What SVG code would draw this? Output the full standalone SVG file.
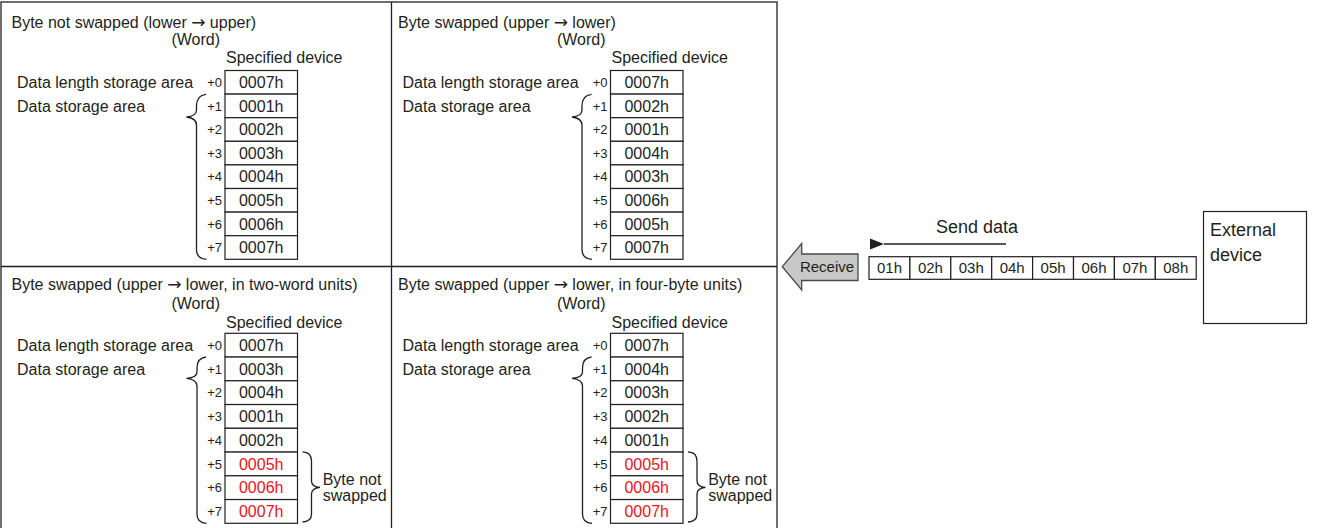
<svg xmlns="http://www.w3.org/2000/svg" width="1318" height="528" viewBox="0 0 1318 528">
<style>
text{font-family:"Liberation Sans",Arial,sans-serif;font-size:16px;fill:#231f20}
.ar{font-family:"DejaVu Sans",sans-serif;font-size:17px}
.o{font-size:13px;text-anchor:end}
.c{text-anchor:middle}
.e{text-anchor:end}
.r{fill:#e8141c}
.cell{fill:#fff;stroke:#231f20;stroke-width:1.2}
.br{fill:none;stroke:#231f20;stroke-width:1.3}
.fr{fill:none;stroke:#231f20;stroke-width:1.3}
.b15{font-size:15px}
.b18{font-size:18px}
</style>
<defs>
<marker id="ah" markerWidth="16" markerHeight="12" refX="1" refY="6" orient="auto" markerUnits="userSpaceOnUse">
<path d="M15,0.5 L1,6 L15,11.5 Z" fill="#231f20"/>
</marker>
</defs>
<rect id="frame" class="fr" x="1" y="2" width="776" height="540"/>
<line class="fr" x1="391.5" y1="2" x2="391.5" y2="540"/>
<line class="fr" x1="1" y1="266.5" x2="777" y2="266.5"/>

<g id="panel-1">
<text x="11.5" y="27.5">Byte not swapped (lower <tspan class="ar">→</tspan> upper)</text>
<text class="e" x="220" y="44.5">(Word)</text>
<text x="226" y="63">Specified device</text>
<text x="17" y="88">Data length storage area</text>
<text x="17" y="111.6">Data storage area</text>
<path class="br" d="M206,94.3 C199,95 196.5,99 196.5,106 L196.5,110 C196.5,114.5 193,116.5 186.5,117 C193,117.8 196.5,120 196.5,125 L196.5,250 C196.5,256 199.5,258.8 206.5,259.3"/>
<rect class="cell" x="225" y="70.5" width="72.5" height="23.6"/>
<rect class="cell" x="225" y="94.1" width="72.5" height="23.6"/>
<rect class="cell" x="225" y="117.7" width="72.5" height="23.6"/>
<rect class="cell" x="225" y="141.3" width="72.5" height="23.6"/>
<rect class="cell" x="225" y="164.9" width="72.5" height="23.6"/>
<rect class="cell" x="225" y="188.5" width="72.5" height="23.6"/>
<rect class="cell" x="225" y="212.1" width="72.5" height="23.6"/>
<rect class="cell" x="225" y="235.7" width="72.5" height="23.6"/>
<text class="o" x="222" y="87">+0</text>
<text class="o" x="222" y="110.6">+1</text>
<text class="o" x="222" y="134.2">+2</text>
<text class="o" x="222" y="157.8">+3</text>
<text class="o" x="222" y="181.4">+4</text>
<text class="o" x="222" y="205">+5</text>
<text class="o" x="222" y="228.6">+6</text>
<text class="o" x="222" y="252.2">+7</text>
<text class="c" x="261.2" y="88">0007h</text>
<text class="c" x="261.2" y="111.6">0001h</text>
<text class="c" x="261.2" y="135.2">0002h</text>
<text class="c" x="261.2" y="158.8">0003h</text>
<text class="c" x="261.2" y="182.4">0004h</text>
<text class="c" x="261.2" y="206">0005h</text>
<text class="c" x="261.2" y="229.6">0006h</text>
<text class="c" x="261.2" y="253.2">0007h</text>
</g>

<g id="panel-2" transform="translate(385.5,0)">
<text x="12.5" y="27.5">Byte swapped (upper <tspan class="ar">→</tspan> lower)</text>
<text class="e" x="220" y="44.5">(Word)</text>
<text x="226" y="63">Specified device</text>
<text x="17" y="88">Data length storage area</text>
<text x="17" y="111.6">Data storage area</text>
<path class="br" d="M206,94.3 C199,95 196.5,99 196.5,106 L196.5,110 C196.5,114.5 193,116.5 186.5,117 C193,117.8 196.5,120 196.5,125 L196.5,250 C196.5,256 199.5,258.8 206.5,259.3"/>
<rect class="cell" x="225" y="70.5" width="72.5" height="23.6"/>
<rect class="cell" x="225" y="94.1" width="72.5" height="23.6"/>
<rect class="cell" x="225" y="117.7" width="72.5" height="23.6"/>
<rect class="cell" x="225" y="141.3" width="72.5" height="23.6"/>
<rect class="cell" x="225" y="164.9" width="72.5" height="23.6"/>
<rect class="cell" x="225" y="188.5" width="72.5" height="23.6"/>
<rect class="cell" x="225" y="212.1" width="72.5" height="23.6"/>
<rect class="cell" x="225" y="235.7" width="72.5" height="23.6"/>
<text class="o" x="222" y="87">+0</text>
<text class="o" x="222" y="110.6">+1</text>
<text class="o" x="222" y="134.2">+2</text>
<text class="o" x="222" y="157.8">+3</text>
<text class="o" x="222" y="181.4">+4</text>
<text class="o" x="222" y="205">+5</text>
<text class="o" x="222" y="228.6">+6</text>
<text class="o" x="222" y="252.2">+7</text>
<text class="c" x="261.2" y="88">0007h</text>
<text class="c" x="261.2" y="111.6">0002h</text>
<text class="c" x="261.2" y="135.2">0001h</text>
<text class="c" x="261.2" y="158.8">0004h</text>
<text class="c" x="261.2" y="182.4">0003h</text>
<text class="c" x="261.2" y="206">0006h</text>
<text class="c" x="261.2" y="229.6">0005h</text>
<text class="c" x="261.2" y="253.2">0007h</text>
</g>

<g id="panel-3">
<text x="11.5" y="289.8">Byte swapped (upper <tspan class="ar">→</tspan> lower, in two-word units)</text>
<text class="e" x="220" y="308.5">(Word)</text>
<text x="226" y="327.8">Specified device</text>
<text x="17" y="350.9">Data length storage area</text>
<text x="17" y="374.6">Data storage area</text>
<path class="br" d="M206,357 C199,357.8 197,362 197,368 L197,372 C197,376 193.5,377.8 186.5,378.3 C193.5,379 197,381 197,386 L197,514 C197,520 200,523 206.5,523.3"/>
<rect class="cell" x="225" y="333.3" width="72.5" height="23.75"/>
<rect class="cell" x="225" y="357.05" width="72.5" height="23.75"/>
<rect class="cell" x="225" y="380.8" width="72.5" height="23.75"/>
<rect class="cell" x="225" y="404.55" width="72.5" height="23.75"/>
<rect class="cell" x="225" y="428.3" width="72.5" height="23.75"/>
<rect class="cell" x="225" y="452.05" width="72.5" height="23.75"/>
<rect class="cell" x="225" y="475.8" width="72.5" height="23.75"/>
<rect class="cell" x="225" y="499.55" width="72.5" height="23.75"/>
<text class="o" x="222" y="349.9">+0</text>
<text class="o" x="222" y="373.65">+1</text>
<text class="o" x="222" y="397.4">+2</text>
<text class="o" x="222" y="421.15">+3</text>
<text class="o" x="222" y="444.9">+4</text>
<text class="o" x="222" y="468.65">+5</text>
<text class="o" x="222" y="492.4">+6</text>
<text class="o" x="222" y="516.15">+7</text>
<text class="c" x="261.2" y="350.9">0007h</text>
<text class="c" x="261.2" y="374.65">0003h</text>
<text class="c" x="261.2" y="398.4">0004h</text>
<text class="c" x="261.2" y="422.15">0001h</text>
<text class="c" x="261.2" y="445.9">0002h</text>
<text class="c r" x="261.2" y="469.65">0005h</text>
<text class="c r" x="261.2" y="493.4">0006h</text>
<text class="c r" x="261.2" y="517.15">0007h</text>
<path class="br" d="M302.5,451.8 C308.5,452 311.5,455 311.5,461 L311.5,481 C311.5,485 314,487 320,487.4 C314,488 311.5,490 311.5,494 L311.5,514 C311.5,519.5 308.5,521.8 302.5,522"/>
<text x="322.7" y="485">Byte not</text>
<text x="322.7" y="501">swapped</text>
</g>

<g id="panel-4" transform="translate(385.5,0)">
<text x="12.5" y="289.8">Byte swapped (upper <tspan class="ar">→</tspan> lower, in four-byte units)</text>
<text class="e" x="220" y="308.5">(Word)</text>
<text x="226" y="327.8">Specified device</text>
<text x="17" y="350.9">Data length storage area</text>
<text x="17" y="374.6">Data storage area</text>
<path class="br" d="M206,357 C199,357.8 197,362 197,368 L197,372 C197,376 193.5,377.8 186.5,378.3 C193.5,379 197,381 197,386 L197,514 C197,520 200,523 206.5,523.3"/>
<rect class="cell" x="225" y="333.3" width="72.5" height="23.75"/>
<rect class="cell" x="225" y="357.05" width="72.5" height="23.75"/>
<rect class="cell" x="225" y="380.8" width="72.5" height="23.75"/>
<rect class="cell" x="225" y="404.55" width="72.5" height="23.75"/>
<rect class="cell" x="225" y="428.3" width="72.5" height="23.75"/>
<rect class="cell" x="225" y="452.05" width="72.5" height="23.75"/>
<rect class="cell" x="225" y="475.8" width="72.5" height="23.75"/>
<rect class="cell" x="225" y="499.55" width="72.5" height="23.75"/>
<text class="o" x="222" y="349.9">+0</text>
<text class="o" x="222" y="373.65">+1</text>
<text class="o" x="222" y="397.4">+2</text>
<text class="o" x="222" y="421.15">+3</text>
<text class="o" x="222" y="444.9">+4</text>
<text class="o" x="222" y="468.65">+5</text>
<text class="o" x="222" y="492.4">+6</text>
<text class="o" x="222" y="516.15">+7</text>
<text class="c" x="261.2" y="350.9">0007h</text>
<text class="c" x="261.2" y="374.65">0004h</text>
<text class="c" x="261.2" y="398.4">0003h</text>
<text class="c" x="261.2" y="422.15">0002h</text>
<text class="c" x="261.2" y="445.9">0001h</text>
<text class="c r" x="261.2" y="469.65">0005h</text>
<text class="c r" x="261.2" y="493.4">0006h</text>
<text class="c r" x="261.2" y="517.15">0007h</text>
<path class="br" d="M302.5,451.8 C308.5,452 311.5,455 311.5,461 L311.5,481 C311.5,485 314,487 320,487.4 C314,488 311.5,490 311.5,494 L311.5,514 C311.5,519.5 308.5,521.8 302.5,522"/>
<text x="322.7" y="485">Byte not</text>
<text x="322.7" y="501">swapped</text>
</g>

<g id="receive">
<polygon points="782.3,266.7 801.7,243.5 801.7,254 858,254 858,280.5 801.7,280.5 801.7,290" fill="#c8c8c8" stroke="#4a4a4a" stroke-width="1.3"/>
<text class="c b15" x="827" y="271.7">Receive</text>
</g>

<g id="send-data">
<rect class="cell" x="869" y="256.7" width="40.9" height="22.6"/>
<rect class="cell" x="909.9" y="256.7" width="40.9" height="22.6"/>
<rect class="cell" x="950.8" y="256.7" width="40.9" height="22.6"/>
<rect class="cell" x="991.7" y="256.7" width="40.9" height="22.6"/>
<rect class="cell" x="1032.6" y="256.7" width="40.9" height="22.6"/>
<rect class="cell" x="1073.5" y="256.7" width="40.9" height="22.6"/>
<rect class="cell" x="1114.4" y="256.7" width="40.9" height="22.6"/>
<rect class="cell" x="1155.3" y="256.7" width="40.9" height="22.6"/>
<text class="c b15" x="889.5" y="273.3">01h</text>
<text class="c b15" x="930.4" y="273.3">02h</text>
<text class="c b15" x="971.3" y="273.3">03h</text>
<text class="c b15" x="1012.2" y="273.3">04h</text>
<text class="c b15" x="1053.1" y="273.3">05h</text>
<text class="c b15" x="1094" y="273.3">06h</text>
<text class="c b15" x="1134.9" y="273.3">07h</text>
<text class="c b15" x="1175.8" y="273.3">08h</text>
<text class="c b18" x="977" y="233">Send data</text>
</g>

<g id="external-device">
<rect class="cell" x="1203.5" y="211.5" width="103" height="112"/>
<text class="b18" x="1210" y="236">External</text>
<text class="b18" x="1210" y="261">device</text>
</g>

<g id="connectors">
<line x1="1006" y1="244" x2="884" y2="244" stroke="#231f20" stroke-width="1.4" marker-end="url(#ah)"/>
</g>
</svg>
